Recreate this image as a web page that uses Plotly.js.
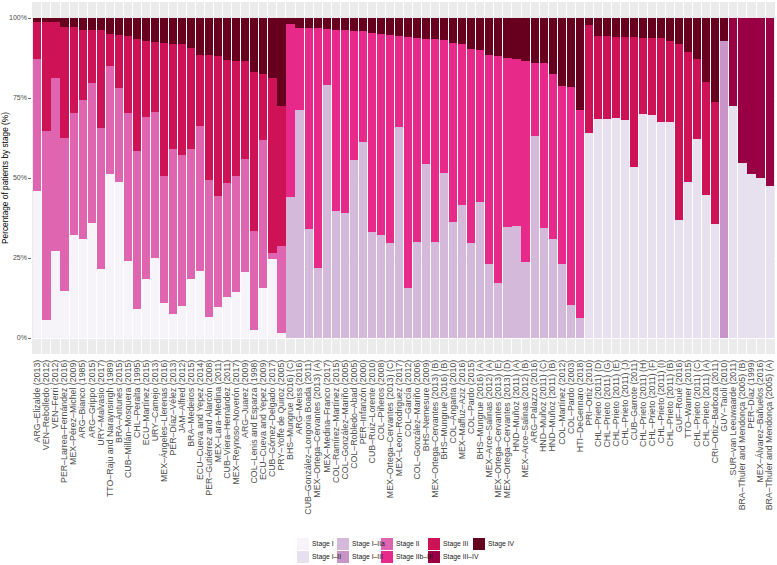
<!DOCTYPE html>
<html>
<head>
<meta charset="utf-8">
<script src="https://cdn.plot.ly/plotly-3.0.1.min.js"></script>
<style>
  html, body { margin: 0; padding: 0; background: #ffffff; }
  #chart { width: 777px; height: 565px; }
</style>
</head>
<body>
<div id="chart"></div>
<script>
const _ = null;

const studies = [
  "ARG–Elizalde (2013)", "VEN–Rebolledo (2012)", "VEN–Ferri (2012)", "PER–Larrea–Fernández (2016)",
  "MEX–Pérez–Michel (2009)", "ARG–Bianco (1985)", "ARG–Grippo (2015)", "URY–Malvasio (2017)",
  "TTO–Raju and Naraynsingh (1989)", "BRA–Antunes (2015)", "CUB–Millán–Mosquera (2015)", "CHL–Peralta (1995)",
  "ECU–Martínez (2015)", "URY–Camejo (2013)", "MEX–Ángeles–Llerenas (2016)", "PER–Díaz–Vélez (2013)",
  "JAM–Alfred (2012)", "BRA–Medeiros (2015)", "ECU–Cueva and Yepez (2014)", "PER–Gutiérrez and Alarcón (2008)",
  "MEX–Lara–Medina (2011)", "CUB–Viera–Hernández (2011)", "MEX–Reynoso–Noverón (2017)", "ARG–Juarez (2009)",
  "COL–Lenis and Esparza (1998)", "ECU–Cueva and Yepez (2009)", "CUB–Gómez–Delgado (2017)", "PRY–Yoffe de Quiroz (2005)",
  "BHS–Mungrue (2016) (C)", "ARG–Meiss (2016)", "CUB–González–Longoria Boada (2011)", "MEX–Ortega–Cervantes (2013) (A)",
  "MEX–Medina–Franco (2017)", "COL–Ramírez–Martínez (2015)", "COL–González–Mariño (2005)", "COL–Robledo–Abad (2005)",
  "PER–Infanzón (2000)", "CUB–Ruiz–Lorente (2010)", "COL–Piñeros (2008)", "MEX–Ortega–Cervantes (2013) (C)",
  "MEX–Leon–Rodriguez (2017)", "COL–García (2012)", "COL–González–Mariño (2006)", "BHS–Nemesure (2009)",
  "MEX–Ortega–Cervantes (2013) (B)", "BHS–Mungrue (2016) (B)", "COL–Ángarita (2010)", "MEX–Maffuz–Aziz (2016)",
  "COL–Pardo (2015)", "BHS–Mungrue (2016) (A)", "MEX–Arce–Salinas (2012) (A)", "MEX–Ortega–Cervantes (2013) (E)",
  "MEX–Ortega–Cervantes (2013) (D)", "HND–Muñoz (2011) (A)", "MEX–Arce–Salinas (2012) (B)", "ARG–Palazzo (2016)",
  "HND–Muñoz (2011) (C)", "HND–Muñoz (2011) (B)", "COL–Martínez (2012)", "COL–Pardo (2003)",
  "HTI–DeGennaro (2018)", "PRI–Ortiz (2010)", "CHL–Prieto (2011) (D)", "CHL–Prieto (2011) (G)",
  "CHL–Prieto (2011) (E)", "CHL–Prieto (2011) (J)", "CUB–Garrote (2011)", "CHL–Prieto (2011) (H)",
  "CHL–Prieto (2011) (F)", "CHL–Prieto (2011) (I)", "CHL–Prieto (2011) (B)", "GUF–Roué (2016)",
  "TTO–Warner (2015)", "CHL–Prieto (2011) (C)", "CHL–Prieto (2011) (A)", "CRI–Ortiz–Barboza (2011)",
  "GUY–Taioli (2010)", "SUR–van Leeuwaarde (2011)", "BRA–Thuler and Mendonça (2005) (B)", "PER–Díaz (1999)",
  "MEX–Álvarez–Bañuelos (2016)", "BRA–Thuler and Mendonça (2005) (A)"
];

// Percentages per stage, one value per study (null = stage not reported)
const stageI = [
  46.0, 5.6, 27.3, 14.8, 32.2, 30.8, 36.0, 21.6, 51.1, 48.9,
  24.1, 9.1, 18.5, 24.9, 11.0, 7.4, 10.0, 18.3, 21.0, 6.7,
  9.8, 12.9, 14.3, 20.7, 2.5, 15.5, 24.6, 1.5, _, _,
  _, _, _, _, _, _, _, _, _, _,
  _, _, _, _, _, _, _, _, _, _,
  _, _, _, _, _, _, _, _, _, _,
  _, _, _, _, _, _, _, _, _, _,
  _, _, _, _, _, _, _, _, _, _,
  _, _
];
const stageI_II = [
  _, _, _, _, _, _, _, _, _, _,
  _, _, _, _, _, _, _, _, _, _,
  _, _, _, _, _, _, _, _, _, _,
  _, _, _, _, _, _, _, _, _, _,
  _, _, _, _, _, _, _, _, _, _,
  _, _, _, _, _, _, _, _, _, _,
  _, 64.1, 68.3, 68.4, 68.9, 68.1, 53.3, 70.1, 69.6, 67.5,
  67.5, 36.8, 48.6, 62.3, 44.8, 35.5, _, 72.5, 54.7, 51.4,
  50.1, 47.6
];
const stageI_IIa = [
  _, _, _, _, _, _, _, _, _, _,
  _, _, _, _, _, _, _, _, _, _,
  _, _, _, _, _, _, _, _, 44.1, 71.4,
  34.1, 22.0, 79.0, 39.8, 39.1, 55.6, 61.3, 33.0, 32.2, 29.8,
  66.0, 15.7, 30.1, 54.5, 30.1, 51.7, 36.3, 41.5, 29.8, 42.4,
  23.1, 17.3, 34.8, 35.0, 23.6, 63.1, 34.4, 30.9, 23.1, 10.3,
  6.1, _, _, _, _, _, _, _, _, _,
  _, _, _, _, _, _, _, _, _, _,
  _, _
];
const stageI_III = [
  _, _, _, _, _, _, _, _, _, _,
  _, _, _, _, _, _, _, _, _, _,
  _, _, _, _, _, _, _, _, _, _,
  _, _, _, _, _, _, _, _, _, _,
  _, _, _, _, _, _, _, _, _, _,
  _, _, _, _, _, _, _, _, _, _,
  _, _, _, _, _, _, _, _, _, _,
  _, _, _, _, _, _, 92.8, _, _, _,
  _, _
];
const stageII = [
  41.1, 59.0, 54.0, 47.8, 38.2, 43.5, 43.8, 43.9, 33.8, 29.2,
  46.2, 49.4, 50.7, 45.8, 39.6, 51.7, 47.1, 40.7, 45.2, 42.6,
  34.5, 35.4, 36.4, 35.2, 31.0, 46.3, 2.0, 27.2, _, _,
  _, _, _, _, _, _, _, _, _, _,
  _, _, _, _, _, _, _, _, _, _,
  _, _, _, _, _, _, _, _, _, _,
  _, _, _, _, _, _, _, _, _, _,
  _, _, _, _, _, _, _, _, _, _,
  _, _
];
const stageIIb_III = [
  _, _, _, _, _, _, _, _, _, _,
  _, _, _, _, _, _, _, _, _, _,
  _, _, _, _, _, _, _, _, 54.1, 25.6,
  62.9, 75.0, 17.7, 56.6, 57.0, 40.2, 34.5, 62.3, 62.7, 64.8,
  28.3, 78.4, 63.7, 39.0, 63.2, 41.5, 55.9, 50.5, 60.4, 47.5,
  65.2, 70.7, 52.8, 52.1, 63.0, 22.9, 51.6, 51.5, 55.7, 68.2,
  65.3, _, _, _, _, _, _, _, _, _,
  _, _, _, _, _, _, _, _, _, _,
  _, _
];
const stageIII = [
  11.7, 34.2, 17.5, 34.6, 26.8, 22.1, 16.6, 30.7, 10.2, 16.6,
  24.0, 34.8, 23.5, 21.8, 41.7, 32.9, 34.7, 31.7, 22.1, 39.0,
  43.8, 38.7, 36.0, 30.6, 49.6, 20.6, 54.7, 43.7, _, _,
  _, _, _, _, _, _, _, _, _, _,
  _, _, _, _, _, _, _, _, _, _,
  _, _, _, _, _, _, _, _, _, _,
  _, 33.6, 26.0, 25.9, 25.2, 26.0, 40.8, 23.7, 24.2, 26.3,
  25.3, 55.2, 40.8, 24.8, 35.2, 38.3, _, _, _, _,
  _, _
];
const stageIII_IV = [
  _, _, _, _, _, _, _, _, _, _,
  _, _, _, _, _, _, _, _, _, _,
  _, _, _, _, _, _, _, _, _, _,
  _, _, _, _, _, _, _, _, _, _,
  _, _, _, _, _, _, _, _, _, _,
  _, _, _, _, _, _, _, _, _, _,
  _, _, _, _, _, _, _, _, _, _,
  _, _, _, _, _, _, _, 27.5, 45.3, 48.6,
  49.9, 52.4
];
const stageIV = [
  1.2, 1.2, 1.2, 2.8, 2.8, 3.6, 3.6, 3.8, 4.9, 5.3,
  5.7, 6.7, 7.3, 7.5, 7.7, 8.0, 8.2, 9.3, 11.7, 11.7,
  11.9, 13.0, 13.3, 13.5, 16.9, 17.6, 18.7, 27.6, 1.8, 3.0,
  3.0, 3.0, 3.3, 3.6, 3.9, 4.2, 4.2, 4.7, 5.1, 5.4,
  5.7, 5.9, 6.2, 6.5, 6.7, 6.8, 7.8, 8.0, 9.8, 10.1,
  11.7, 12.0, 12.4, 12.9, 13.4, 14.0, 14.0, 17.6, 21.2, 21.5,
  28.6, 2.3, 5.7, 5.7, 5.9, 5.9, 5.9, 6.2, 6.2, 6.2,
  7.2, 8.0, 10.6, 12.9, 20.0, 26.2, 7.2, _, _, _,
  _, _
];

const stageNames = ["Stage I", "Stage I–II", "Stage I–IIa", "Stage I–III", "Stage II",
                    "Stage IIb–III", "Stage III", "Stage III–IV", "Stage IV"];
const stageColors = ["#f7f4f9", "#e7e1ef", "#d4b9da", "#c994c7", "#df65b0",
                     "#e7298a", "#ce1256", "#980043", "#67001f"];
const stageValues = [stageI, stageI_II, stageI_IIa, stageI_III, stageII,
                     stageIIb_III, stageIII, stageIII_IV, stageIV];
const yTicks = [0, 25, 50, 75, 100];

const FONT = "'Liberation Sans', Arial, Helvetica, sans-serif";

const traces = stageNames.map((name, i) => ({
  type: "bar",
  name: name,
  x: studies,
  y: stageValues[i],
  marker: { color: stageColors[i], line: { width: 0 } },
  showlegend: false,
  hoverinfo: "x+y+name"
}));

// Manual legend (ggplot style: 2 rows, keys adjacent to labels)
const W = 777, H = 565;
const M = { l: 32, r: 2, t: 2, b: 211 };
const PW = W - M.l - M.r, PH = H - M.t - M.b;
const px = v => (v - M.l) / PW;
const py = v => (H - M.b - v) / PH;

const legendLayout = [
  { s: 0, x: 297, y: 544 }, { s: 2, x: 337, y: 544 }, { s: 4, x: 381, y: 544 },
  { s: 6, x: 428, y: 544 }, { s: 8, x: 473, y: 544 },
  { s: 1, x: 297, y: 557 }, { s: 3, x: 337, y: 557 }, { s: 5, x: 381, y: 557 },
  { s: 7, x: 428, y: 557 }
];
const shapes = [], annotations = [];
legendLayout.forEach(it => {
  shapes.push({
    type: "rect", xref: "paper", yref: "paper", layer: "above",
    x0: px(it.x), x1: px(it.x + 12), y0: py(it.y - 6), y1: py(it.y + 6),
    fillcolor: stageColors[it.s], line: { width: 0 }
  });
  annotations.push({
    xref: "paper", yref: "paper", x: px(it.x + 13), y: py(it.y),
    xanchor: "left", yanchor: "middle", showarrow: false,
    text: stageNames[it.s], font: { family: FONT, size: 6.8, color: "#1a1a1a" }
  });
});

const layout = {
  width: W, height: H,
  margin: M,
  paper_bgcolor: "#ffffff",
  plot_bgcolor: "#ebebeb",
  barmode: "stack",
  bargap: 0.1,
  showlegend: false,
  font: { family: FONT, color: "#4d4d4d" },
  xaxis: {
    type: "category",
    range: [-0.6, studies.length - 0.4],
    tickmode: "linear", tick0: 0, dtick: 1,
    tickson: "boundaries",
    showgrid: true, gridcolor: "#ffffff", gridwidth: 0.9,
    ticks: "", tickangle: -90,
    ticklabelstandoff: 3,
    tickfont: { family: FONT, size: 8.8, color: "#4d4d4d" },
    zeroline: false, showline: false, automargin: false, fixedrange: true
  },
  yaxis: {
    range: [-5, 105],
    tickvals: yTicks,
    ticktext: yTicks.map(v => v + "%"),
    ticks: "outside", ticklen: 2.7, tickwidth: 0.7, tickcolor: "#333333",
    tickfont: { family: FONT, size: 7, color: "#4d4d4d" },
    showgrid: true, gridcolor: "#ffffff", gridwidth: 0.9,
    zeroline: false, showline: false, automargin: false, fixedrange: true,
    title: { text: "Percentage of patients by stage (%)", standoff: 2,
             font: { family: FONT, size: 8.3, color: "#000000" } }
  },
  shapes: shapes,
  annotations: annotations
};

Plotly.newPlot("chart", traces, layout, { displayModeBar: false, staticPlot: true });
</script>
</body>
</html>
